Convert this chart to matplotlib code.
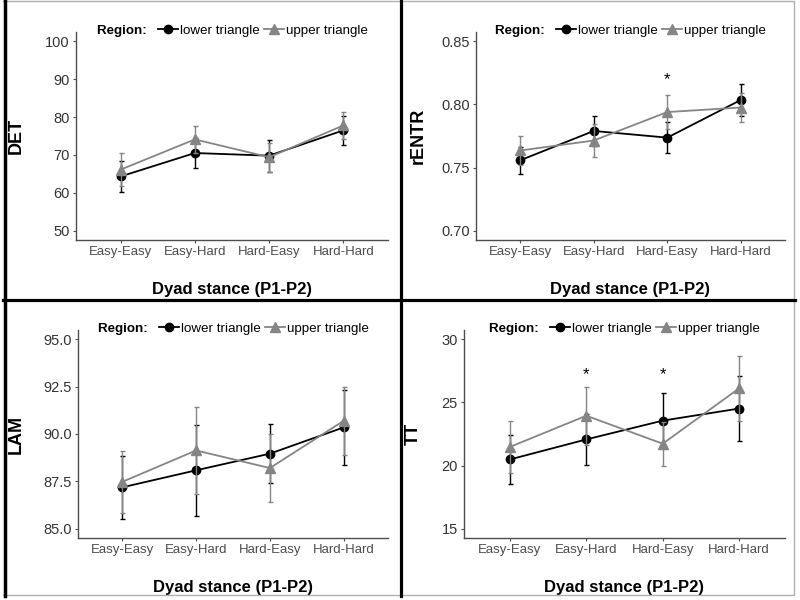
import matplotlib
matplotlib.use("Agg")
import matplotlib.pyplot as plt
from matplotlib.lines import Line2D

plt.rcParams['font.family'] = ['Liberation Sans', 'DejaVu Sans']

categories = ["Easy-Easy", "Easy-Hard", "Hard-Easy", "Hard-Hard"]
series_names = ["lower triangle", "upper triangle"]

det_lower = [64.3, 70.5, 69.8, 76.5]
det_lower_err = [4.2, 4.0, 4.2, 3.8]
det_upper = [66.1, 74.1, 69.4, 77.8]
det_upper_err = [4.3, 3.6, 3.8, 3.5]

rentr_lower = [0.7557, 0.779, 0.7737, 0.8036]
rentr_lower_err = [0.0105, 0.012, 0.0125, 0.013]
rentr_upper = [0.7635, 0.7714, 0.794, 0.7976]
rentr_upper_err = [0.0115, 0.013, 0.0135, 0.0115]

lam_lower = [87.18, 88.08, 88.96, 90.35]
lam_lower_err = [1.65, 2.4, 1.55, 2.0]
lam_upper = [87.47, 89.13, 88.2, 90.7]
lam_upper_err = [1.65, 2.3, 1.8, 1.8]

tt_lower = [20.48, 22.07, 23.56, 24.52]
tt_lower_err = [1.95, 2.0, 2.2, 2.55]
tt_upper = [21.47, 23.95, 21.73, 26.12]
tt_upper_err = [2.1, 2.3, 1.75, 2.55]

det_ticks = [50, 60, 70, 80, 90, 100]
rentr_ticks = [0.70, 0.75, 0.80, 0.85]
lam_ticks = [85.0, 87.5, 90.0, 92.5, 95.0]
tt_ticks = [15, 20, 25, 30]

det_ticklabels = ["50", "60", "70", "80", "90", "100"]
rentr_ticklabels = ["0.70", "0.75", "0.80", "0.85"]
lam_ticklabels = ["85.0", "87.5", "90.0", "92.5", "95.0"]
tt_ticklabels = ["15", "20", "25", "30"]

# significance markers: (category index, y)
rentr_sig = [(2, 0.8195)]
tt_sig = [(1, 27.2), (2, 27.2)]

W, H = 800, 600
fig = plt.figure(figsize=(8, 6), dpi=100)

def rect(l, r, t, b):
    return [l / W, 1 - b / H, (r - l) / W, (b - t) / H]

panels = [
    dict(pos=rect(76, 388, 32, 240), ylab="DET", lower=det_lower, lerr=det_lower_err,
         upper=det_upper, uerr=det_upper_err, ticks=det_ticks, tl=det_ticklabels, sig=[], ylx=25),
    dict(pos=rect(476, 785, 32, 240), ylab="rENTR", lower=rentr_lower, lerr=rentr_lower_err,
         upper=rentr_upper, uerr=rentr_upper_err, ticks=rentr_ticks, tl=rentr_ticklabels, sig=rentr_sig, ylx=427),
    dict(pos=rect(78, 388, 330, 538), ylab="LAM", lower=lam_lower, lerr=lam_lower_err,
         upper=lam_upper, uerr=lam_upper_err, ticks=lam_ticks, tl=lam_ticklabels, sig=[], ylx=25),
    dict(pos=rect(464, 785, 330, 538), ylab="TT", lower=tt_lower, lerr=tt_lower_err,
         upper=tt_upper, uerr=tt_upper_err, ticks=tt_ticks, tl=tt_ticklabels, sig=tt_sig, ylx=422),
]

black = "#000000"
grey = "#858585"
axis_col = "#4d4d4d"
tick_col = "#333333"

x = list(range(1, len(categories) + 1))

for p in panels:
    ax = fig.add_axes(p["pos"])
    lo, hi = p["ticks"][0], p["ticks"][-1]
    pad = (hi - lo) * 0.05
    ax.set_ylim(lo - pad, hi + pad)
    ax.set_xlim(0.4, 4.6)
    ax.errorbar(x, p["lower"], yerr=p["lerr"], color=black, lw=1.3, marker='o', ms=6,
                capsize=1.8, elinewidth=1.0, capthick=1.0, zorder=3, label=series_names[0])
    ax.errorbar(x, p["upper"], yerr=p["uerr"], color=grey, lw=1.3, marker='^', ms=7.5,
                capsize=1.8, elinewidth=1.0, capthick=1.0, zorder=4, label=series_names[1])
    for (i, yv) in p["sig"]:
        ax.text(x[i], yv, "*", ha='center', va='center', fontsize=12, color='black')
    ax.set_xticks(x)
    ax.set_xticklabels(categories, fontsize=9.5, color=axis_col)
    ax.set_yticks(p["ticks"])
    ax.set_yticklabels(p["tl"], fontsize=10.5, color=tick_col)
    ax.tick_params(axis='both', length=2.5, width=0.8, color=axis_col, pad=2)
    for s in ["top", "right"]:
        ax.spines[s].set_visible(False)
    for s in ["left", "bottom"]:
        ax.spines[s].set_color(axis_col)
        ax.spines[s].set_linewidth(1.0)
    ax.set_xlabel("Dyad stance (P1-P2)", fontsize=12, fontweight='bold')
    ax.xaxis.set_label_coords(0.5, -42 / 208)
    ax.set_ylabel(p["ylab"], fontsize=13, fontweight='bold')
    l_px = p["pos"][0] * W
    w_px = p["pos"][2] * W
    ax.yaxis.set_label_coords((p["ylx"] - l_px) / w_px, 0.5)

    handles = [Line2D([], [], color=black, marker='o', ms=6, lw=1.3),
               Line2D([], [], color=grey, marker='^', ms=7.5, lw=1.3)]
    leg = ax.legend(handles, series_names, loc='center', bbox_to_anchor=(0.5, 1.005),
                    ncol=2, frameon=False, fontsize=9.6, handlelength=1.5,
                    handletextpad=0.15, columnspacing=0.3, borderaxespad=0,
                    title="Region:  ", title_fontproperties={'weight': 'bold', 'size': 9.6})
    c = leg.get_children()[0]
    title_box = c.get_children()[0]
    hpack = c.get_children()[1]
    c._children = [hpack]
    hpack._children.insert(0, title_box)

# frame and dividers
fig.add_artist(Line2D([3 / W, 794 / W, 794 / W, 3 / W], [1 - 1 / H, 1 - 1 / H, 1 - 595 / H, 1 - 595 / H],
                      color="#b0b0b0", lw=1.0, transform=fig.transFigure))
fig.add_artist(Line2D([4.5 / W, 4.5 / W], [1 - 0 / H, 1 - 596 / H], color='black', lw=2.5,
                      transform=fig.transFigure))
fig.add_artist(Line2D([401 / W, 401 / W], [1.0, 1 - 596 / H], color='black', lw=2.3,
                      transform=fig.transFigure))
fig.add_artist(Line2D([3 / W, 795 / W], [1 - 299.5 / H, 1 - 299.5 / H], color='black', lw=2.3,
                      transform=fig.transFigure))

fig.savefig("out.png", dpi=100)
